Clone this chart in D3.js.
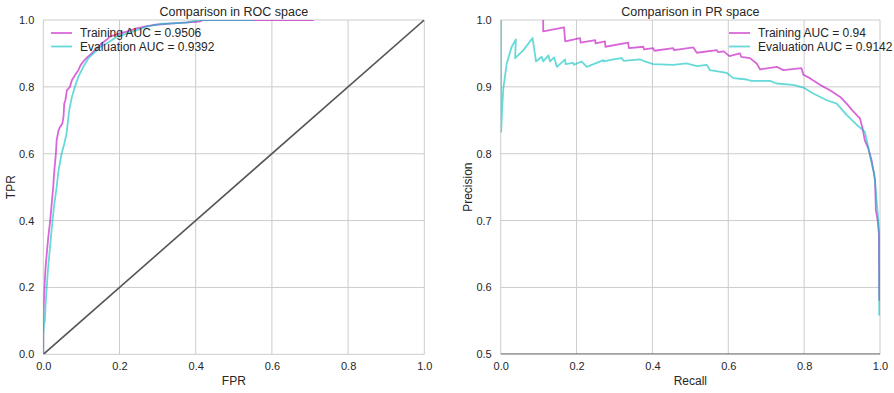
<!DOCTYPE html>
<html>
<head>
<meta charset="utf-8">
<script src="https://cdn.jsdelivr.net/npm/d3@7/dist/d3.min.js"></script>
<style>
	body { margin: 0; background: #fff; }
	svg text { font-family: Arial, "Liberation Sans", sans-serif; fill: #262626; }
	.grid line { stroke: #cccccc; stroke-width: 1; }
</style>
</head>
<body>
<svg id="chart" width="894" height="393"></svg>
<script>
// ROC curves: [fpr, tpr]
var trainingRoc = [
	[0, 0], [0, 0.11], [0.002, 0.17], [0.004, 0.22], [0.006, 0.26], [0.009, 0.30], [0.013, 0.35], [0.018, 0.40],
	[0.022, 0.45], [0.026, 0.50], [0.029, 0.55], [0.033, 0.60], [0.035, 0.64], [0.040, 0.67], [0.044, 0.68],
	[0.050, 0.69], [0.053, 0.71], [0.055, 0.75], [0.058, 0.76], [0.062, 0.79], [0.066, 0.795], [0.070, 0.80],
	[0.075, 0.82], [0.083, 0.835], [0.092, 0.85], [0.098, 0.865], [0.105, 0.876], [0.115, 0.888], [0.127, 0.90],
	[0.140, 0.915], [0.153, 0.93], [0.165, 0.94], [0.175, 0.95], [0.195, 0.958], [0.219, 0.965], [0.245, 0.975],
	[0.265, 0.98], [0.288, 0.985], [0.34, 0.99], [0.41, 0.995], [0.42, 1.0], [0.71, 1.0]
];
var evaluationRoc = [
	[0, 0], [0, 0.06], [0.002, 0.09], [0.004, 0.10], [0.006, 0.15], [0.009, 0.20], [0.012, 0.25], [0.016, 0.30],
	[0.020, 0.35], [0.024, 0.40], [0.029, 0.45], [0.035, 0.50], [0.040, 0.55], [0.048, 0.60], [0.055, 0.63],
	[0.061, 0.66], [0.065, 0.70], [0.068, 0.73], [0.075, 0.77], [0.083, 0.80], [0.092, 0.83], [0.105, 0.86],
	[0.118, 0.885], [0.136, 0.905], [0.150, 0.92], [0.166, 0.93], [0.193, 0.95], [0.215, 0.958], [0.235, 0.965],
	[0.271, 0.98], [0.306, 0.988], [0.376, 0.992], [0.40, 0.998], [0.41, 1.0], [0.55, 1.0]
];
var chanceRoc = [[0, 0], [1, 1]];

// PR curves: [recall, precision]
var trainingPr = [
	[0.112, 1.0], [0.112, 0.983], [0.167, 0.989], [0.17, 0.968], [0.209, 0.973], [0.211, 0.966], [0.249, 0.970],
	[0.25, 0.965], [0.275, 0.968], [0.276, 0.960], [0.336, 0.966], [0.338, 0.958], [0.376, 0.960], [0.378, 0.956],
	[0.402, 0.958], [0.405, 0.954], [0.455, 0.958], [0.457, 0.955], [0.508, 0.959], [0.517, 0.951], [0.57, 0.955],
	[0.573, 0.952], [0.588, 0.953], [0.603, 0.946], [0.631, 0.950], [0.634, 0.945], [0.657, 0.943], [0.675, 0.935],
	[0.684, 0.926], [0.728, 0.930], [0.745, 0.925], [0.793, 0.928], [0.798, 0.918], [0.815, 0.913], [0.842, 0.903],
	[0.868, 0.895], [0.895, 0.885], [0.912, 0.875], [0.93, 0.863], [0.947, 0.853], [0.954, 0.838], [0.96, 0.82],
	[0.969, 0.808], [0.978, 0.79], [0.987, 0.76], [0.989, 0.716], [0.994, 0.70], [0.997, 0.68], [0.998, 0.58]
];
var evaluationPr = [
	[0.001, 1.0], [0.001, 0.833], [0.004, 0.87], [0.007, 0.898], [0.016, 0.935], [0.029, 0.960], [0.04, 0.971],
	[0.038, 0.943], [0.06, 0.955], [0.084, 0.973], [0.088, 0.958], [0.093, 0.938], [0.108, 0.945], [0.112, 0.938],
	[0.126, 0.947], [0.13, 0.938], [0.141, 0.944], [0.148, 0.930], [0.17, 0.941], [0.171, 0.934], [0.191, 0.936],
	[0.193, 0.933], [0.213, 0.938], [0.227, 0.930], [0.271, 0.940], [0.272, 0.938], [0.297, 0.941], [0.319, 0.943],
	[0.324, 0.939], [0.367, 0.941], [0.376, 0.939], [0.402, 0.934], [0.455, 0.933], [0.49, 0.935], [0.517, 0.931],
	[0.543, 0.933], [0.552, 0.925], [0.596, 0.921], [0.613, 0.913], [0.649, 0.911], [0.66, 0.909], [0.71, 0.909],
	[0.728, 0.905], [0.771, 0.903], [0.798, 0.899], [0.824, 0.890], [0.86, 0.880], [0.886, 0.875], [0.912, 0.858],
	[0.939, 0.843], [0.96, 0.833], [0.969, 0.810], [0.976, 0.790], [0.985, 0.77], [0.994, 0.711], [0.998, 0.681],
	[0.998, 0.558]
];
var baselinePr = [[0, 0.5], [1, 0.5]];

var ticksUnit = [0, 0.2, 0.4, 0.6, 0.8, 1.0];
var ticksPrecision = [0.5, 0.6, 0.7, 0.8, 0.9, 1.0];

var rocLegend = ['Training AUC = 0.9506', 'Evaluation AUC = 0.9392'];
var prLegend = ['Training AUC = 0.94', 'Evaluation AUC = 0.9142'];

(function() {
	'use strict';
	var svg = d3.select('#chart');
	var colors = ['#bf00bf', '#00bfbf'];

	var drawPanel = function(opts) {
		var x = d3.scaleLinear().domain([0, 1]).range([opts.left, opts.right]);
		var y = d3.scaleLinear().domain(opts.yDomain).range([opts.bottom, opts.top]);
		var id = 'clip-' + opts.key;

		svg.append('clipPath')
			.attr('id', id)
			.append('rect')
			.attr('x', opts.left)
			.attr('y', opts.top)
			.attr('width', opts.right - opts.left)
			.attr('height', opts.bottom - opts.top);

		// grid
		var grid = svg.append('g').attr('class', 'grid');
		grid.selectAll('.gx')
			.data(ticksUnit)
			.enter().append('line')
			.attr('x1', function(d) { return x(d); })
			.attr('x2', function(d) { return x(d); })
			.attr('y1', opts.top)
			.attr('y2', opts.bottom);
		grid.selectAll('.gy')
			.data(opts.yTicks)
			.enter().append('line')
			.attr('x1', opts.left)
			.attr('x2', opts.right)
			.attr('y1', function(d) { return y(d); })
			.attr('y2', function(d) { return y(d); });

		// axes (labels only, frame drawn by grid)
		var xAxis = svg.append('g')
			.attr('transform', 'translate(0,' + opts.bottom + ')')
			.call(d3.axisBottom(x).tickValues(ticksUnit).tickFormat(d3.format('.1f')).tickSize(0).tickPadding(8));
		var yAxis = svg.append('g')
			.attr('transform', 'translate(' + opts.left + ',0)')
			.call(d3.axisLeft(y).tickValues(opts.yTicks).tickFormat(d3.format('.1f')).tickSize(0).tickPadding(9));
		[xAxis, yAxis].forEach(function(a) {
			a.select('.domain').remove();
			a.selectAll('text').attr('font-size', 11).style('fill', '#262626');
		});

		var line = d3.line()
			.x(function(d) { return x(d[0]); })
			.y(function(d) { return y(d[1]); });

		var plot = svg.append('g').attr('clip-path', 'url(#' + id + ')');
		plot.append('path')
			.datum(opts.reference)
			.attr('d', line)
			.attr('fill', 'none')
			.attr('stroke', '#555555')
			.attr('stroke-width', 1.6);

		opts.series.forEach(function(s, i) {
			plot.append('path')
				.datum(s)
				.attr('d', line)
				.attr('fill', 'none')
				.attr('stroke', colors[i])
				.attr('stroke-opacity', 0.6)
				.attr('stroke-width', 1.8)
				.attr('stroke-linejoin', 'round');
		});

		// titles
		var cx = (opts.left + opts.right) / 2;
		svg.append('text')
			.attr('x', cx)
			.attr('y', 16)
			.attr('text-anchor', 'middle')
			.attr('font-size', 12.5)
			.text(opts.title);
		svg.append('text')
			.attr('x', cx)
			.attr('y', 385)
			.attr('text-anchor', 'middle')
			.attr('font-size', 12)
			.text(opts.xLabel);
		svg.append('text')
			.attr('transform', 'translate(' + opts.yLabelX + ',' + ((opts.top + opts.bottom) / 2) + ') rotate(-90)')
			.attr('text-anchor', 'middle')
			.attr('font-size', 12)
			.text(opts.yLabel);

		// legend
		var legend = svg.append('g')
			.attr('transform', 'translate(' + opts.legendX + ',33)');
		opts.legend.forEach(function(label, i) {
			legend.append('line')
				.attr('x1', 0)
				.attr('x2', 21)
				.attr('y1', i * 13.5)
				.attr('y2', i * 13.5)
				.attr('stroke', colors[i])
				.attr('stroke-opacity', 0.6)
				.attr('stroke-width', 1.8);
			legend.append('text')
				.attr('x', 29)
				.attr('y', i * 13.5 + 4)
				.attr('font-size', 12)
				.text(label);
		});
	};

	drawPanel({
		key: 'roc',
		left: 43.3, right: 424.3, top: 20, bottom: 354.3,
		yDomain: [0, 1], yTicks: ticksUnit,
		series: [trainingRoc, evaluationRoc], reference: chanceRoc,
		title: 'Comparison in ROC space', xLabel: 'FPR', yLabel: 'TPR', yLabelX: 15,
		legend: rocLegend, legendX: 51
	});

	drawPanel({
		key: 'pr',
		left: 500.7, right: 880, top: 20, bottom: 354.3,
		yDomain: [0.5, 1], yTicks: ticksPrecision,
		series: [trainingPr, evaluationPr], reference: baselinePr,
		title: 'Comparison in PR space', xLabel: 'Recall', yLabel: 'Precision', yLabelX: 472,
		legend: prLegend, legendX: 729
	});
})();
</script>
</body>
</html>
